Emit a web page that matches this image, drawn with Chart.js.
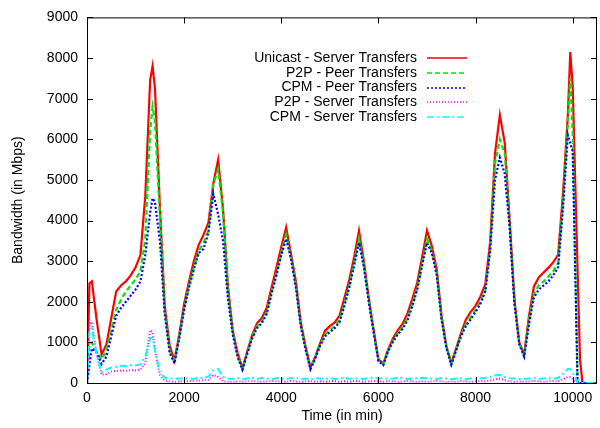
<!DOCTYPE html>
<html>
<head>
<meta charset="utf-8">
<script src="https://cdn.jsdelivr.net/npm/chart.js@4.4.0/dist/chart.umd.min.js"></script>
<style>
  html, body { margin: 0; padding: 0; background: #fff; }
  #wrap { width: 600px; height: 428px; }
</style>
</head>
<body>
<div id="wrap"><canvas id="bwChart" width="600" height="428"></canvas></div>
<script>
// time axis (minutes), shared by all series
const minutes = [
  0, 50, 100, 200, 300, 400, 500, 600, 700, 800, 900,
  1000, 1100, 1200, 1300, 1350, 1400, 1500, 1600, 1700, 1800, 1900,
  2000, 2100, 2200, 2300, 2400, 2500, 2600, 2700, 2800, 2900,
  3000, 3100, 3200, 3300, 3400, 3500, 3600, 3700, 3800, 3900,
  4000, 4100, 4200, 4300, 4400, 4500, 4600, 4700, 4800, 4900,
  5000, 5100, 5200, 5300, 5400, 5500, 5600, 5700, 5800, 5900,
  6000, 6100, 6200, 6300, 6400, 6500, 6600, 6700, 6800, 6900,
  7000, 7100, 7200, 7300, 7400, 7500, 7600, 7700, 7800, 7900,
  8000, 8100, 8200, 8300, 8400, 8500, 8600, 8700, 8800, 8900,
  9000, 9100, 9200, 9300, 9400, 9500, 9600, 9700, 9800, 9900,
  9950, 10000, 10100, 10150, 10200, 10300, 10400, 10500
];

const unicastServer = [
  0, 2450, 2500, 1550, 700, 950, 1600, 2250, 2400, 2500, 2650,
  2850, 3150, 4600, 7450, 7800, 7250, 4350, 1900, 930, 550, 1200,
  1950, 2500, 3000, 3400, 3650, 3950, 4900, 5500, 4300, 2400,
  1300, 750, 360, 780, 1180, 1470, 1600, 1850, 2350, 2840,
  3350, 3830, 3180, 2500, 1500, 900, 380, 650, 980, 1290,
  1400, 1490, 1660, 2100, 2540, 3100, 3750, 3000, 2100, 1320,
  580, 480, 830, 1100, 1300, 1460, 1720, 2080, 2480, 3100,
  3750, 3370, 2800, 1650, 900, 490, 850, 1230, 1560, 1750,
  1900, 2130, 2430, 3470, 5650, 6600, 5920, 4050, 2050, 1000,
  700, 1650, 2370, 2600, 2720, 2840, 2970, 3160, 4670, 6600,
  8150, 7300, 2800, 600, 0, 0, 0, 0
];

const p2pPeer = [
  0, 950, 1000, 750, 580, 800, 1300, 1800, 2050, 2250, 2400,
  2550, 2750, 3550, 6200, 6800, 6450, 4100, 1800, 800, 520, 1150,
  1850, 2400, 2850, 3250, 3450, 3750, 4900, 5250, 4200, 2250,
  1250, 680, 340, 750, 1150, 1400, 1520, 1750, 2250, 2700,
  3200, 3650, 3100, 2400, 1450, 850, 360, 620, 950, 1200,
  1300, 1400, 1550, 1950, 2400, 2950, 3550, 2900, 2050, 1280,
  560, 460, 800, 1050, 1230, 1380, 1600, 1950, 2350, 2950,
  3550, 3250, 2700, 1600, 880, 470, 820, 1180, 1450, 1620,
  1800, 2000, 2300, 3300, 5400, 6000, 5650, 3950, 2000, 980,
  680, 1550, 2200, 2400, 2500, 2620, 2750, 2950, 4450, 6400,
  7500, 6200, 0, 0, 0, 0, 0, 0
];

const cpmPeer = [
  0, 450, 850, 750, 470, 650, 1150, 1650, 1850, 2000, 2150,
  2300, 2500, 3150, 4200, 4550, 4450, 3500, 1700, 750, 480, 1100,
  1800, 2350, 2800, 3200, 3300, 3700, 4650, 4150, 3500, 2100,
  1200, 640, 330, 720, 1100, 1350, 1480, 1700, 2200, 2650,
  3150, 3550, 3050, 2350, 1400, 820, 340, 600, 920, 1150,
  1250, 1350, 1500, 1900, 2350, 2900, 3450, 2850, 2000, 1250,
  540, 440, 780, 1020, 1200, 1340, 1550, 1900, 2300, 2900,
  3450, 3200, 2650, 1550, 860, 450, 800, 1150, 1400, 1570,
  1750, 1950, 2250, 3250, 5000, 5550, 5150, 3850, 1950, 950,
  650, 1450, 2100, 2300, 2400, 2500, 2650, 2850, 4300, 6100,
  5900, 5700, 0, 0, 0, 0, 0, 0
];

const p2pServer = [
  0, 1450, 1500, 700, 200, 220, 280, 300, 310, 300, 320,
  310, 330, 500, 1300, 1250, 800, 200, 60, 40, 30, 40,
  50, 50, 60, 60, 70, 80, 200, 150, 40, 30,
  30, 40, 30, 40, 50, 40, 30, 40, 50, 40,
  40, 30, 50, 40, 30, 40, 50, 30, 40, 30,
  40, 50, 30, 40, 30, 50, 40, 30, 40, 50,
  40, 30, 50, 40, 30, 40, 50, 40, 30, 40,
  30, 40, 50, 40, 30, 40, 30, 50, 40, 30,
  40, 50, 40, 60, 90, 110, 70, 40, 30, 40,
  30, 40, 50, 40, 30, 40, 50, 40, 90, 150,
  140, 90, 0, 0, 0, 0, 0, 0
];

const cpmServer = [
  0, 1250, 1350, 700, 270, 330, 380, 400, 420, 420, 440,
  430, 460, 650, 1100, 1120, 800, 280, 130, 110, 100, 110,
  110, 120, 100, 130, 120, 160, 310, 340, 150, 110,
  100, 120, 90, 110, 130, 100, 120, 110, 90, 120,
  110, 100, 120, 130, 100, 110, 90, 120, 110, 100,
  120, 100, 110, 130, 100, 120, 110, 100, 120, 130,
  110, 120, 100, 110, 130, 120, 100, 110, 120, 130,
  120, 110, 100, 120, 110, 90, 110, 120, 100, 110,
  110, 120, 130, 150, 190, 200, 150, 120, 110, 100,
  100, 110, 120, 100, 110, 120, 100, 130, 220, 350,
  340, 260, 0, 0, 0, 0, 0, 0
];

const seriesNames = [
  'Unicast - Server Transfers',
  'P2P - Peer Transfers',
  'CPM - Peer Transfers',
  'P2P - Server Transfers',
  'CPM - Server Transfers'
];
const seriesColors = ['#ff0000', '#00e600', '#0000ff', '#ff00ff', '#00ffff'];
const seriesDashes = [[], [5, 3], [2, 2], [1, 2], [7, 3, 2, 3]];
const xTickValues = [0, 2000, 4000, 6000, 8000, 10000];
const yTickValues = [0, 1000, 2000, 3000, 4000, 5000, 6000, 7000, 8000, 9000];

const allSeries = [unicastServer, p2pPeer, cpmPeer, p2pServer, cpmServer];

// where the plot box sits in the reference
const PLOT_TOP = 12, PLOT_BOTTOM = 383, PLOT_RIGHT = 597;

Chart.defaults.font.family = "'Liberation Sans', Arial, Helvetica, sans-serif";
Chart.defaults.font.size = 14;
Chart.defaults.color = '#000';

// gnuplot-ish frame, inward ticks and key
const gnuplotFrame = {
  id: 'gnuplotFrame',
  afterDatasetsDraw(chart) {
    const { ctx, chartArea: a, scales } = chart;
    ctx.save();
    ctx.strokeStyle = '#000';
    ctx.lineWidth = 1;
    ctx.setLineDash([]);
    ctx.beginPath();
    scales.x.ticks.forEach(t => {
      const px = Math.round(scales.x.getPixelForValue(t.value)) + 0.5;
      ctx.moveTo(px, a.bottom); ctx.lineTo(px, a.bottom - 6);
      ctx.moveTo(px, a.top); ctx.lineTo(px, a.top + 6);
    });
    scales.y.ticks.forEach(t => {
      const py = Math.round(scales.y.getPixelForValue(t.value)) + 0.5;
      ctx.moveTo(a.left, py); ctx.lineTo(a.left + 6, py);
      ctx.moveTo(a.right, py); ctx.lineTo(a.right - 6, py);
    });
    ctx.stroke();
    ctx.strokeRect(a.left + 0.5, a.top + 0.5, a.right - a.left - 1, a.bottom - a.top);

    // key
    ctx.font = "14px 'Liberation Sans', Arial, sans-serif";
    ctx.textAlign = 'right';
    ctx.textBaseline = 'middle';
    ctx.fillStyle = '#000';
    ctx.lineWidth = 1.5;
    const textRight = a.right - 180;
    seriesNames.forEach((name, i) => {
      const yy = a.top + 41 + i * 14.6;
      ctx.fillText(name, textRight, yy);
      ctx.strokeStyle = seriesColors[i];
      ctx.setLineDash(seriesDashes[i]);
      ctx.beginPath();
      ctx.moveTo(textRight + 10, Math.round(yy));
      ctx.lineTo(textRight + 50, Math.round(yy));
      ctx.stroke();
    });
    ctx.restore();
  }
};

const datasets = allSeries.map((vals, i) => ({
  label: seriesNames[i],
  data: minutes.map((t, k) => ({ x: t, y: vals[k] })),
  borderColor: seriesColors[i],
  borderDash: seriesDashes[i],
  borderWidth: i < 3 ? 2.2 : 2,
  pointRadius: 0,
  tension: 0,
  fill: false,
  order: 5 - i
}));

const bwChart = new Chart(document.getElementById('bwChart'), {
  type: 'line',
  data: { datasets },
  options: {
    responsive: false,
    animation: false,
    layout: { padding: { top: 12, right: 3, left: 0, bottom: 0 } },
    plugins: { legend: { display: false }, tooltip: { enabled: false } },
    scales: {
      x: {
        type: 'linear',
        min: 0,
        max: 10500,
        afterBuildTicks: s => { s.ticks = xTickValues.map(v => ({ value: v })); },
        afterFit: s => { s.height = 45; },
        ticks: { callback: v => String(v), padding: 7, maxRotation: 0, autoSkip: false },
        grid: { display: false, drawTicks: false },
        border: { display: false },
        title: { display: true, text: 'Time (in min)', padding: { top: 0, bottom: 3 } }
      },
      y: {
        type: 'linear',
        min: 0,
        max: 9000,
        afterBuildTicks: s => { s.ticks = yTickValues.map(v => ({ value: v })); },
        afterFit: s => { s.width = 87; },
        ticks: { callback: v => String(v), padding: 9, autoSkip: false },
        grid: { display: false, drawTicks: false },
        border: { display: false },
        title: { display: true, text: 'Bandwidth (in Mbps)', padding: { top: 10, bottom: 0 } }
      }
    }
  },
  plugins: [gnuplotFrame]
});

// nudge the plot box onto the reference position
const area = bwChart.chartArea;
const pad = bwChart.options.layout.padding;
pad.top += PLOT_TOP - area.top;
pad.bottom += area.bottom - PLOT_BOTTOM;
pad.right += area.right - PLOT_RIGHT;
bwChart.update();
</script>
</body>
</html>
